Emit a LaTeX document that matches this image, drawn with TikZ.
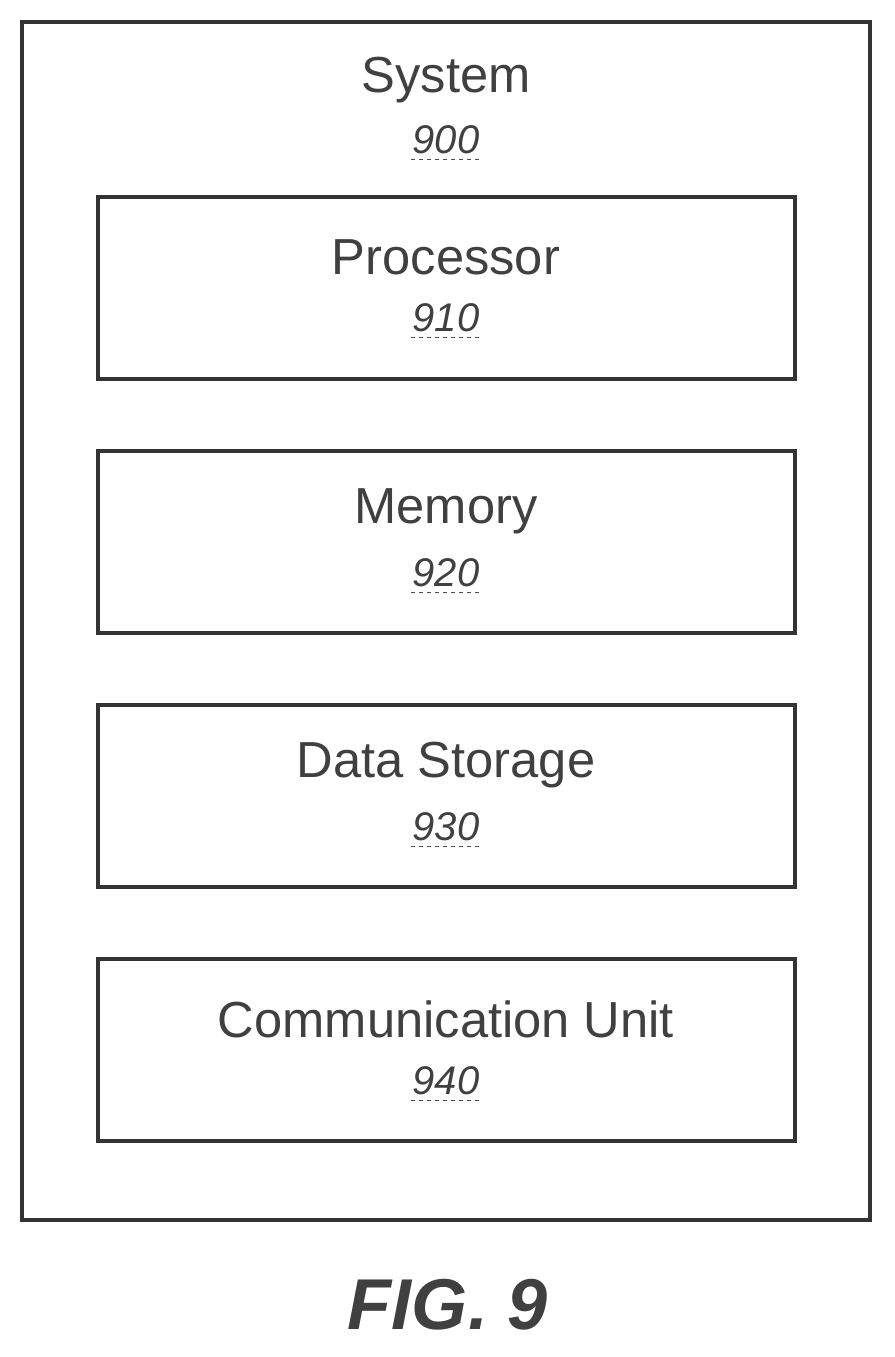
\documentclass[tikz,border=0pt]{standalone}
\usepackage{fontspec}
\setmainfont{Liberation Sans}
\usetikzlibrary{positioning}
\tikzset{
  unitbox/.style={draw=black!80, line width=3pt, minimum width=523pt, minimum height=136pt, inner sep=0pt},
  title/.style={font=\fontsize{38}{40}\selectfont, text=black!75, inner sep=0pt},
  refnum/.style={font=\fontsize{30}{32}\selectfont\itshape, text=black!75, inner sep=1pt, inner ysep=4pt},
  numline/.style={dashed, line width=0.8pt, black!70}
}
\newcommand{\refunder}[1]{\draw[numline] (#1.south west) -- (#1.south east);}
\begin{document}
\begin{tikzpicture}[x=0.75pt,y=-0.75pt]
\useasboundingbox (0,0) rectangle (894,1357);
% outer system box
\draw[draw=black!80, line width=3pt] (22,22) rectangle (870,1220);
\node[title] (sys) at (446,80) {System};
\node[refnum] (sysn) at (446,140) {900};
\refunder{sysn}
% inner units
\node[unitbox] (proc) at (446.5,288) {};
\node[unitbox] (mem) at (446.5,542) {};
\node[unitbox] (stor) at (446.5,796) {};
\node[unitbox] (comm) at (446.5,1050) {};
\node[title] (proct) at (446,257) {Processor};
\node[refnum] (procn) at (446,318) {910};
\refunder{procn}
\node[title] (memt) at (446,511) {Memory};
\node[refnum] (memn) at (446,573) {920};
\refunder{memn}
\node[title] (stort) at (446,765) {Data Storage};
\node[refnum] (storn) at (446,827) {930};
\refunder{storn}
\node[title] (commt) at (446,1019) {Communication Unit};
\node[refnum] (commn) at (446,1081) {940};
\refunder{commn}
% figure caption
\node[font=\fontsize{54}{56}\selectfont\bfseries\itshape, text=black!75] (fig) at (448,1305) {FIG. 9};
\end{tikzpicture}
\end{document}
